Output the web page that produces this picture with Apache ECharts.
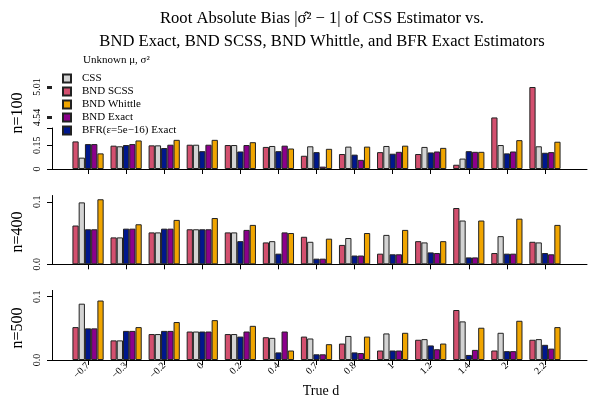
<!DOCTYPE html>
<html>
<head>
<meta charset="utf-8">
<script src="https://cdn.jsdelivr.net/npm/echarts@6/dist/echarts.min.js"></script>
<style>
  html, body { margin: 0; padding: 0; background: #fff; }
  #chart { width: 600px; height: 400px; }
</style>
</head>
<body>
<div id="chart"></div>
<script>
// categories (true d)
const categories = ["−0.7", "−0.3", "−0.2", "0", "0.2", "0.4", "0.7", "0.8", "1", "1.2", "1.4", "2", "2.2"];

// n = 100
const n100Scss = [0.175, 0.148, 0.150, 0.154, 0.152, 0.140, 0.084, 0.095, 0.107, 0.095, 0.027, 4.54, 5.01];
const n100Css = [0.072, 0.144, 0.150, 0.154, 0.152, 0.146, 0.144, 0.142, 0.146, 0.140, 0.066, 0.152, 0.144];
const n100Bfr = [0.158, 0.152, 0.133, 0.113, 0.111, 0.113, 0.107, 0.091, 0.097, 0.105, 0.113, 0.099, 0.103];
const n100Exact = [0.158, 0.158, 0.154, 0.154, 0.152, 0.148, 0.015, 0.058, 0.109, 0.111, 0.109, 0.111, 0.107];
const n100Whittle = [0.099, 0.181, 0.185, 0.185, 0.170, 0.130, 0.128, 0.142, 0.148, 0.134, 0.109, 0.183, 0.173];

// n = 400
const n400Scss = [0.062, 0.043, 0.051, 0.056, 0.051, 0.035, 0.044, 0.031, 0.017, 0.037, 0.090, 0.018, 0.036];
const n400Css = [0.099, 0.043, 0.051, 0.056, 0.051, 0.037, 0.036, 0.042, 0.047, 0.035, 0.070, 0.045, 0.035];
const n400Bfr = [0.056, 0.057, 0.057, 0.056, 0.037, 0.017, 0.009, 0.014, 0.016, 0.019, 0.011, 0.017, 0.018];
const n400Exact = [0.056, 0.057, 0.057, 0.056, 0.055, 0.051, 0.009, 0.014, 0.016, 0.018, 0.011, 0.017, 0.016];
const n400Whittle = [0.104, 0.064, 0.071, 0.074, 0.063, 0.050, 0.041, 0.050, 0.055, 0.037, 0.070, 0.073, 0.063];

// n = 500
const n500Scss = [0.052, 0.031, 0.041, 0.045, 0.041, 0.036, 0.037, 0.026, 0.015, 0.032, 0.079, 0.015, 0.032];
const n500Css = [0.089, 0.031, 0.041, 0.045, 0.041, 0.035, 0.034, 0.038, 0.042, 0.033, 0.061, 0.043, 0.033];
const n500Bfr = [0.050, 0.046, 0.046, 0.045, 0.037, 0.012, 0.009, 0.012, 0.015, 0.023, 0.008, 0.014, 0.024];
const n500Exact = [0.050, 0.046, 0.046, 0.045, 0.045, 0.045, 0.009, 0.011, 0.015, 0.017, 0.016, 0.014, 0.018];
const n500Whittle = [0.094, 0.052, 0.060, 0.063, 0.054, 0.015, 0.025, 0.037, 0.043, 0.026, 0.051, 0.062, 0.052];

// y tick labels
const n100Ticks = [0, 0.15];
const n100GapTicks = [4.54, 5.01];
const smallTicks = [0, 0.1];

const serif = "Liberation Serif";
// bar order inside a group
const seriesNames = ["BND SCSS", "CSS", "BFR(ε=5e−16) Exact", "BND Exact", "BND Whittle"];
const seriesColors = ["#d3506f", "#d3d3d3", "#00178c", "#8b008b", "#f0a500"];
const legendOrder = ["CSS", "BND SCSS", "BND Whittle", "BND Exact", "BFR(ε=5e−16) Exact"];

const panels = [
  { name: "n=100", data: [n100Scss, n100Css, n100Bfr, n100Exact, n100Whittle], bottom: 231, frameTop: 128, frameMax: 0.26, barsTop: 80.7, barsMax: 5.05, nameY: 113 },
  { name: "n=400", data: [n400Scss, n400Css, n400Bfr, n400Exact, n400Whittle], bottom: 135.7, frameTop: 195.5, frameMax: 0.11, barsTop: 195.5, barsMax: 0.11, nameY: 232 },
  { name: "n=500", data: [n500Scss, n500Css, n500Bfr, n500Exact, n500Whittle], bottom: 40, frameTop: 290.4, frameMax: 0.11, barsTop: 290.4, barsMax: 0.11, nameY: 328 },
];

const grid = [], xAxis = [], yAxis = [], series = [], graphic = [];

const labelStyle = { color: "#000", fontFamily: serif, fontSize: 10 };

panels.forEach((p, i) => {
  const a = i * 2, b = i * 2 + 1;
  // frame grid: axis lines only
  grid.push({ left: 52, right: 13, top: p.frameTop, bottom: p.bottom });
  // bars grid
  grid.push({ left: 69, right: 36, top: p.barsTop, bottom: p.bottom });

  xAxis.push({
    gridIndex: a, type: "value", min: 0, max: 1,
    axisLine: { show: true, lineStyle: { color: "#000", width: 1 } },
    axisTick: { show: false }, axisLabel: { show: false }, splitLine: { show: false },
  });
  xAxis.push({
    gridIndex: b, type: "category", data: categories,
    axisLine: { show: false },
    axisTick: { show: true, alignWithLabel: true, length: 5, lineStyle: { color: "#000" } },
    axisLabel: i === 2
      ? Object.assign({ show: true, rotate: 45, margin: 4, interval: 0 }, labelStyle)
      : { show: false },
    splitLine: { show: false },
  });

  const ticks = i === 0 ? n100Ticks : smallTicks;
  yAxis.push({
    gridIndex: a, type: "value", min: 0, max: p.frameMax,
    axisLine: { show: true, lineStyle: { color: "#000", width: 1 } },
    axisTick: { show: true, length: 5, customValues: i === 0 ? [0, 0.15, 0.26] : ticks, lineStyle: { color: "#000" } },
    axisLabel: Object.assign({
      show: true, rotate: 90, margin: 10, customValues: ticks,
      formatter: (v) => (i === 0 ? (v === 0 ? "0" : v.toFixed(2)) : v.toFixed(1)),
    }, labelStyle),
    splitLine: { show: false },
  });

  if (i === 0) {
    // broken axis for the two very large BND SCSS values
    yAxis.push({
      gridIndex: b, type: "value", min: 0, max: p.barsMax, offset: 17,
      breaks: [
        { start: 0.26, end: 4.5, gap: 0.027 },
        { start: 4.58, end: 4.96, gap: 0.103 },
      ],
      breakArea: { show: false },
      axisLine: { show: false },
      axisTick: { show: true, length: 5, customValues: n100GapTicks, lineStyle: { color: "#222", width: 3 } },
      axisLabel: Object.assign({ show: true, rotate: 90, margin: 10, customValues: n100GapTicks }, labelStyle),
      splitLine: { show: false },
    });
  } else {
    yAxis.push({
      gridIndex: b, type: "value", min: 0, max: p.barsMax, show: false,
      splitLine: { show: false },
    });
  }

  p.data.forEach((vals, k) => {
    series.push({
      name: seriesNames[k], type: "bar", xAxisIndex: b, yAxisIndex: b,
      data: vals, barGap: "0%", barCategoryGap: "18%",
      itemStyle: { color: seriesColors[k], borderColor: "#222", borderWidth: 1 },
    });
  });

  graphic.push({
    type: "text", x: 18, y: p.nameY, rotation: Math.PI / 2,
    style: { text: p.name, font: "16px 'Liberation Serif'", fill: "#000", align: "center", verticalAlign: "middle" },
  });
});

graphic.push({
  type: "text", x: 321, y: 391,
  style: { text: "True d", font: "14px 'Liberation Serif'", fill: "#000", align: "center", verticalAlign: "middle" },
});
graphic.push({
  type: "text", x: 83, y: 60,
  style: { text: "Unknown μ, σ²", font: "11px 'Liberation Serif'", fill: "#000", align: "left", verticalAlign: "middle" },
});

const chart = echarts.init(document.getElementById("chart"), null, { renderer: "canvas" });
chart.setOption({
  animation: false,
  title: {
    text: "Root Absolute Bias |σ̂² − 1| of CSS Estimator vs.\nBND Exact, BND SCSS, BND Whittle, and BFR Exact Estimators",
    left: 317, top: 2, textAlign: "center",
    textStyle: { fontFamily: serif, fontSize: 16.6, fontWeight: "normal", color: "#000", lineHeight: 23 },
  },
  legend: {
    data: legendOrder, orient: "vertical", left: 57, top: 68,
    itemWidth: 8, itemHeight: 8, itemGap: 2, icon: "rect",
    textStyle: { fontFamily: serif, fontSize: 11, color: "#000", padding: [0, 0, 0, 6] },
  },
  grid, xAxis, yAxis, series, graphic,
});
</script>
</body>
</html>
